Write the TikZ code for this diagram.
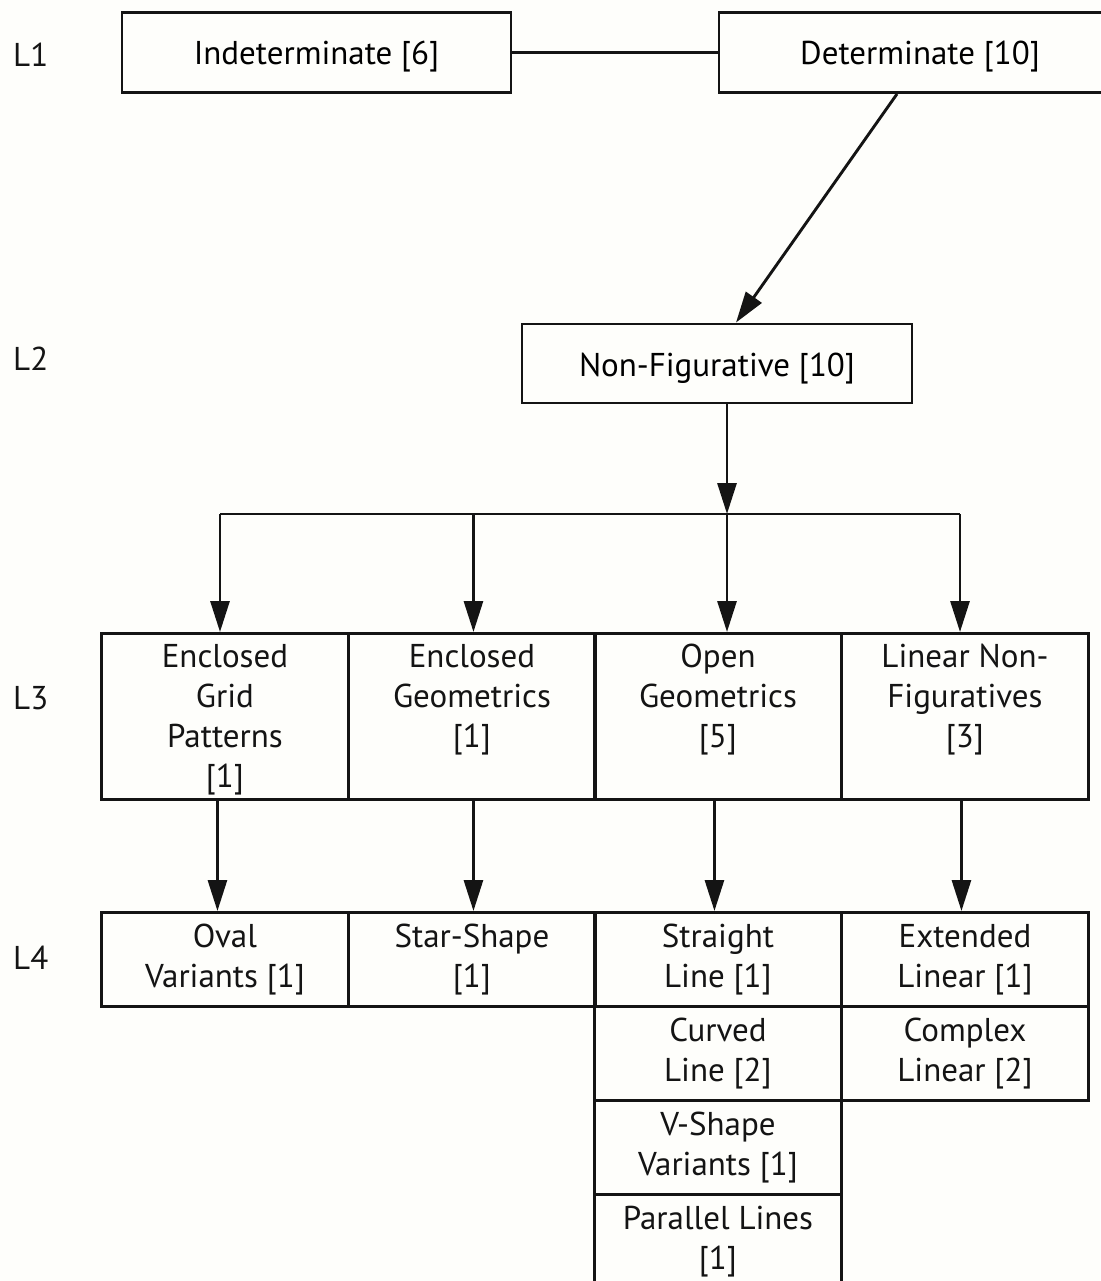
\documentclass[tikz,border=0pt]{standalone}
\usepackage{fontspec}
\setmainfont{PT Sans}
\usetikzlibrary{arrows.meta,calc}
\newcommand\cellfont{\fontsize{33}{40}\selectfont}
\newcommand\tstrut{\rule{0pt}{26pt}}
\definecolor{paper}{RGB}{254,254,251}
\definecolor{ink}{RGB}{20,20,20}
\tikzset{
  boxline/.style={draw=ink, line width=2.9pt},
  flatbox/.style={boxline, rectangle, inner sep=0pt, font=\cellfont,
    text height=25pt, text depth=0pt, minimum height=80pt},
  cell/.style={boxline, rectangle, inner sep=0pt, anchor=north west,
    minimum width=247pt, minimum height=#1},
  celltxt/.style={anchor=north, align=center, inner sep=0pt, font=\cellfont, text=ink},
  lvl/.style={anchor=base west, inner sep=0pt, font=\cellfont, text=ink},
  conn/.style={draw=ink, line width=2.9pt},
  arr/.style={conn, -{Triangle[length=31pt,width=19pt]}},
}
\begin{document}
\begin{tikzpicture}[x=1pt,y=-1pt]
\fill[paper] (0,0) rectangle (1100,1281);
\useasboundingbox (0,0) rectangle (1100,1281);

% level labels
\node[lvl] (l1) at (13,67) {L1};
\node[lvl] (l2) at (13,370) {L2};
\node[lvl] (l3) at (13,709) {L3};
\node[lvl] (l4) at (13,969) {L4};

% level 1 and 2
\node[flatbox, minimum width=389pt] (ind) at (316.5,52.5) {Indeterminate [6]};
\node[flatbox, minimum width=402pt] (det) at (920,52.5) {Determinate [10]};
\node[flatbox, minimum width=390pt, minimum height=79pt] (nonfig) at (717,363.5) {Non-Figurative [10]};

\draw[conn] (ind.east) -- (det.west);
\draw[arr] ([xshift=-23pt]det.south) -- ([xshift=19pt]nonfig.north);

% level 3 cells
\node[cell=166pt] (egp) at (100,632) {};
\node[cell=166pt] (eg)  at (347,632) {};
\node[cell=166pt] (og)  at (593,632) {};
\node[cell=166pt] (lnf) at (840,632) {};
\node[celltxt] (egpT) at ([yshift=-9pt]egp.north) {\tstrut Enclosed\\Grid\\Patterns\\{[1]}};
\node[celltxt] (egT)  at ([yshift=-9pt]eg.north)  {\tstrut Enclosed\\Geometrics\\{[1]}};
\node[celltxt] (ogT)  at ([yshift=-9pt]og.north)  {\tstrut Open\\Geometrics\\{[5]}};
\node[celltxt] (lnfT) at ([yshift=-9pt]lnf.north) {\tstrut Linear Non-\\Figuratives\\{[3]}};

% level 4 cells
\node[cell=94pt] (oval) at (100,911) {};
\node[cell=94pt] (star) at (347,911) {};
\node[cell=94pt] (str)  at (593,911) {};
\node[cell=94pt] (ext)  at (840,911) {};
\node[cell=94pt] (cur)  at (593,1005) {};
\node[cell=94pt] (cpx)  at (840,1005) {};
\node[cell=94pt] (vsh)  at (593,1099) {};
\node[cell=120pt] (par) at (593,1193) {};
\node[celltxt] (ovalT) at ([yshift=-10pt]oval.north) {\tstrut Oval\\Variants [1]};
\node[celltxt] (starT) at ([yshift=-10pt]star.north) {\tstrut Star-Shape\\{[1]}};
\node[celltxt] (strT)  at ([yshift=-10pt]str.north)  {\tstrut Straight\\Line [1]};
\node[celltxt] (extT)  at ([yshift=-10pt]ext.north)  {\tstrut Extended\\Linear [1]};
\node[celltxt] (curT)  at ([yshift=-10pt]cur.north)  {\tstrut Curved\\Line [2]};
\node[celltxt] (cpxT)  at ([yshift=-10pt]cpx.north)  {\tstrut Complex\\Linear [2]};
\node[celltxt] (vshT)  at ([yshift=-10pt]vsh.north)  {\tstrut V-Shape\\Variants [1]};
\node[celltxt] (parT)  at ([yshift=-10pt]par.north)  {\tstrut Parallel Lines\\{[1]}};

% distribution bar under Non-Figurative
\coordinate (j)  at ([xshift=10pt]nonfig.south |- 0,514);
\coordinate (b1) at (220,514);
\coordinate (b4) at (960,514);
\draw[arr] ([xshift=10pt]nonfig.south) -- (j);
\draw[conn] (b1) -- (b4);
\draw[arr] (b1) -- (b1 |- egp.north);
\draw[arr] ([xshift=1.5pt]eg.north |- j) -- ([xshift=1.5pt]eg.north);
\draw[arr] (j) -- (j |- og.north);
\draw[arr] (b4) -- (b4 |- lnf.north);

% level 3 to level 4
\draw[arr] ([xshift=-7.5pt]egp.south) -- ([xshift=-7.5pt]oval.north);
\draw[arr] ([xshift=1.5pt]eg.south) -- ([xshift=1.5pt]star.north);
\draw[arr] ([xshift=-3.5pt]og.south) -- ([xshift=-3.5pt]str.north);
\draw[arr] ([xshift=-3.5pt]lnf.south) -- ([xshift=-3.5pt]ext.north);
\end{tikzpicture}
\end{document}
